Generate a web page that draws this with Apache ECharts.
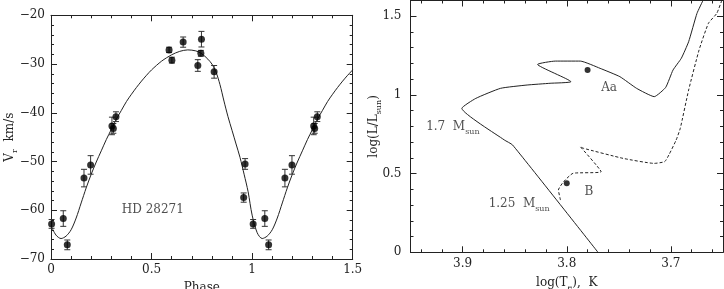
<!DOCTYPE html>
<html>
<head>
<meta charset="utf-8">
<script src="https://cdn.jsdelivr.net/npm/echarts@6/dist/echarts.min.js"></script>
<style>html,body{margin:0;padding:0;background:#fff}#c{width:724px;height:289px}</style>
</head>
<body>
<div id="c"></div>
<script>
// ---------- Left panel: radial velocity of HD 28271 ----------
const obsPhase = [0.003, 0.061, 0.081, 0.164, 0.197, 0.303, 0.310, 0.323, 0.587, 0.601, 0.657, 0.730, 0.745, 0.748, 0.811, 0.958, 0.965,
                  1.005, 1.063, 1.082, 1.163, 1.198, 1.306, 1.311, 1.324];
const obsVr    = [-62.8, -61.7, -67.1, -53.4, -50.7, -42.7, -43.2, -40.8, -27.1, -29.2, -25.5, -30.3, -27.8, -24.9, -31.6, -57.4, -50.5,
                  -62.8, -61.7, -67.1, -53.4, -50.7, -42.7, -43.2, -40.8];
const obsErr   = [0.9, 1.6, 1.0, 1.8, 1.9, 1.8, 1.0, 1.0, 0.55, 0.6, 1.05, 1.2, 0.6, 1.6, 1.3, 0.95, 1.1,
                  0.9, 1.6, 1.0, 1.8, 1.9, 1.8, 1.0, 1.0];

const curvePhase = [0.00, 0.025, 0.05, 0.075, 0.10, 0.125, 0.15, 0.175, 0.20, 0.225, 0.25, 0.275, 0.30, 0.325, 0.35, 0.375, 0.40, 0.425, 0.45, 0.475, 0.50,
                    0.55, 0.60, 0.64, 0.68, 0.72, 0.75, 0.78, 0.80, 0.82, 0.84, 0.86, 0.88, 0.90, 0.92, 0.94, 0.96, 0.98, 1.00,
                    1.025, 1.05, 1.075, 1.10, 1.125, 1.15, 1.175, 1.20, 1.225, 1.25, 1.275, 1.30, 1.325, 1.35, 1.375, 1.40, 1.425, 1.45, 1.475, 1.50];
const curveVr    = [-63.2, -65.1, -65.8, -65.3, -64.0, -61.6, -58.5, -55.4, -52.6, -50.1, -47.8, -45.5, -43.4, -41.3, -39.5, -37.7, -36.2, -34.8, -33.5, -32.3, -31.2,
                    -29.4, -28.1, -27.4, -27.1, -27.3, -27.9, -29.0, -30.0, -31.6, -34.2, -37.6, -40.8, -43.6, -46.4, -49.2, -52.6, -56.2, -61.0,
                    -64.6, -65.8, -65.3, -64.0, -61.6, -58.5, -55.4, -52.6, -50.1, -47.8, -45.5, -43.4, -41.3, -39.5, -37.7, -36.2, -34.8, -33.5, -32.3, -31.2];

const leftXTicks = [0, 0.5, 1, 1.5];
const leftYTicks = [-70, -60, -50, -40, -30, -20];

// ---------- Right panel: HR diagram ----------
const track17LogTe = [3.770, 3.852, 3.860, 3.9007, 3.8873, 3.8635, 3.838, 3.816, 3.796, 3.828, 3.811, 3.787, 3.768, 3.749, 3.733, 3.716, 3.705, 3.698, 3.690, 3.683, 3.675, 3.669];
const track17LogL  = [0.000, 0.682, 0.714, 0.915, 0.978, 1.042, 1.063, 1.074, 1.084, 1.194, 1.215, 1.215, 1.169, 1.116, 1.042, 0.989, 1.048, 1.158, 1.233, 1.338, 1.518, 1.603];

const track125LogTe = [3.806, 3.808, 3.803, 3.794, 3.767, 3.787, 3.784, 3.746, 3.716, 3.706, 3.702, 3.695, 3.691, 3.683, 3.673, 3.664, 3.656, 3.651];
const track125LogL  = [0.332, 0.396, 0.449, 0.502, 0.512, 0.671, 0.661, 0.597, 0.565, 0.576, 0.618, 0.713, 0.788, 1.031, 1.285, 1.455, 1.518, 1.603];

const starNames = ['Aa', 'B'];
const starLogTe = [3.780, 3.800];
const starLogL  = [1.158, 0.438];

const rightXTicks = [3.9, 3.8, 3.7];
const rightYTicks = [0, 0.5, 1, 1.5];

// ---------- styles ----------
const FONT = 'DejaVu Serif';
const INK = '#222';
const fmtMinus = v => (v < 0 ? '\u2212' + Math.abs(v) : String(v));
const onTicks = (list) => (v) => list.some(t => Math.abs(t - v) < 1e-6) ? fmtMinus(+v.toFixed(2)) : '';
const rich = {
  v: { fontFamily: FONT, fontSize: 12, color: INK, lineHeight: 18 },
  s: { fontFamily: FONT, fontSize: 8, color: INK, lineHeight: 8, verticalAlign: 'bottom' }
};

function frameAxis(extra) {
  return Object.assign({
    type: 'value',
    nameMoveOverlap: false,
    axisLine: { show: true, onZero: false, lineStyle: { color: INK, width: 1 } },
    axisTick: { show: true, inside: true, length: 6, lineStyle: { color: INK, width: 1 } },
    minorTick: { show: true, splitNumber: 5, length: 3, lineStyle: { color: INK, width: 1 } },
    splitLine: { show: false },
    minorSplitLine: { show: false },
    axisLabel: { show: false }
  }, extra);
}
function labelStyle(extra) {
  return Object.assign({ show: true, fontFamily: FONT, fontSize: 12, color: INK, showMinLabel: true, showMaxLabel: true }, extra);
}

const chart = echarts.init(document.getElementById('c'), null, { renderer: 'canvas' });

const option = {
  animation: false,
  backgroundColor: '#fff',
  grid: [
    { left: 51, top: 15.3, width: 301.7, height: 243.7, outerBoundsMode: 'none', containLabel: false },
    { left: 410.5, top: 0.5, width: 312.5, height: 251.8, outerBoundsMode: 'none', containLabel: false }
  ],
  xAxis: [
    frameAxis({ gridIndex: 0, position: 'bottom', min: 0, max: 1.5, interval: 0.5,
      axisLabel: labelStyle({ margin: 5, formatter: onTicks(leftXTicks) }),
      name: '{v|Phase}', nameLocation: 'middle', nameGap: 20, nameTextStyle: { rich } }),
    frameAxis({ gridIndex: 0, position: 'top', min: 0, max: 1.5, interval: 0.5 }),
    frameAxis({ gridIndex: 1, position: 'bottom', min: 3.65, max: 3.95, splitNumber: 3, inverse: true,
      axisLabel: labelStyle({ margin: 6, formatter: onTicks(rightXTicks) }),
      name: '{v|log(T}{s|e}{v|),  K}', nameLocation: 'middle', nameGap: 22, nameTextStyle: { rich } }),
    frameAxis({ gridIndex: 1, position: 'top', min: 3.65, max: 3.95, splitNumber: 3, inverse: true })
  ],
  yAxis: [
    frameAxis({ gridIndex: 0, position: 'left', min: -70, max: -20, interval: 10,
      axisLabel: labelStyle({ margin: 6, formatter: onTicks(leftYTicks) }),
      name: '{v|V}{s|r}{v|  km/s}', nameLocation: 'middle', nameGap: 32, nameRotate: 90, nameTextStyle: { rich } }),
    frameAxis({ gridIndex: 0, position: 'right', min: -70, max: -20, interval: 10 }),
    frameAxis({ gridIndex: 1, position: 'left', min: 0, max: 1.6, interval: 0.5,
      axisLabel: labelStyle({ margin: 9, formatter: onTicks(rightYTicks) }),
      name: '{v|log(L/L}{s|sun}{v|)}', nameLocation: 'middle', nameGap: 28, nameRotate: 90, nameTextStyle: { rich } }),
    frameAxis({ gridIndex: 1, position: 'right', min: 0, max: 1.6, interval: 0.5 })
  ],
  series: [
    { type: 'line', xAxisIndex: 0, yAxisIndex: 0, data: curvePhase.map((p, i) => [p, curveVr[i]]),
      showSymbol: false, smooth: 0.3, lineStyle: { color: INK, width: 1 }, clip: true, z: 2 },
    { type: 'custom', xAxisIndex: 0, yAxisIndex: 0,
      data: obsPhase.map((p, i) => [p, obsVr[i] - obsErr[i], obsVr[i] + obsErr[i]]),
      encode: { x: 0, y: [1, 2] },
      renderItem: (params, api) => {
        const lo = api.coord([api.value(0), api.value(1)]);
        const hi = api.coord([api.value(0), api.value(2)]);
        const w = 3, st = { stroke: '#333', lineWidth: 1 };
        return { type: 'group', children: [
          { type: 'line', shape: { x1: lo[0], y1: lo[1], x2: hi[0], y2: hi[1] }, style: st },
          { type: 'line', shape: { x1: lo[0] - w, y1: lo[1], x2: lo[0] + w, y2: lo[1] }, style: st },
          { type: 'line', shape: { x1: hi[0] - w, y1: hi[1], x2: hi[0] + w, y2: hi[1] }, style: st }
        ]};
      }, z: 3 },
    { type: 'scatter', xAxisIndex: 0, yAxisIndex: 0, data: obsPhase.map((p, i) => [p, obsVr[i]]),
      symbolSize: 7, itemStyle: { color: '#000' }, z: 4 },
    { type: 'scatter', xAxisIndex: 0, yAxisIndex: 0, data: [[0.352, -60.0]], symbolSize: 0, silent: true,
      label: { show: true, position: 'inside', align: 'left', verticalAlign: 'middle', formatter: '{v|HD 28271}', rich } },

    { type: 'line', xAxisIndex: 2, yAxisIndex: 2, data: track17LogTe.map((t, i) => [t, track17LogL[i]]),
      showSymbol: false, smooth: 0.15, lineStyle: { color: INK, width: 1 }, clip: true },
    { type: 'line', xAxisIndex: 2, yAxisIndex: 2, data: track125LogTe.map((t, i) => [t, track125LogL[i]]),
      showSymbol: false, smooth: 0.15, lineStyle: { color: INK, width: 1, type: [3, 2] }, clip: true },
    { type: 'scatter', xAxisIndex: 2, yAxisIndex: 2, data: starLogTe.map((t, i) => [t, starLogL[i]]),
      symbolSize: 6, itemStyle: { color: '#000' } },
    { type: 'scatter', xAxisIndex: 2, yAxisIndex: 2, symbolSize: 0, silent: true,
      data: [
        { value: [3.935, 0.796], label: { formatter: '{v|1.7  M}{s|sun}' } },
        { value: [3.875, 0.307], label: { formatter: '{v|1.25  M}{s|sun}' } },
        { value: [3.767, 1.042], label: { formatter: '{v|' + starNames[0] + '}' } },
        { value: [3.783, 0.385], label: { formatter: '{v|' + starNames[1] + '}' } }
      ],
      label: { show: true, position: 'inside', align: 'left', verticalAlign: 'middle', rich } }
  ]
};
chart.setOption(option);
</script>
</body>
</html>
